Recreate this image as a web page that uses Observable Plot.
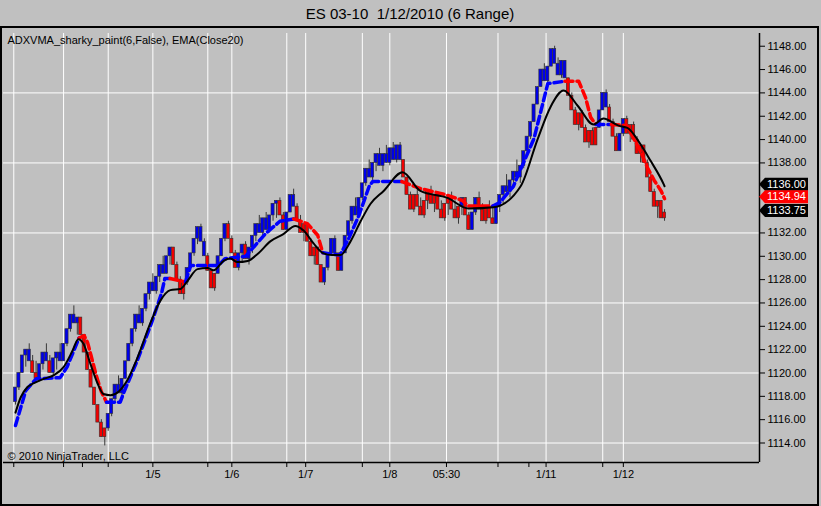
<!DOCTYPE html>
<html><head><meta charset="utf-8">
<script src="https://cdn.jsdelivr.net/npm/d3@7"></script>
<script src="https://cdn.jsdelivr.net/npm/@observablehq/plot@0.6"></script>
<style>html,body{margin:0;padding:0;background:#c0c0c0;} svg{display:block}</style>
</head><body><div id="chart"></div>
<script>
// ---- data (range bars, index = bar number) ----
const open = [
1117.5,1118.75,1120,1121.5,1122,1121,1120,1119.5,1120.75,1121.75,
1121,1120,1121.25,1121.75,1121,1122.5,1123.75,1125,1124.25,1124.75,
1123.25,1121.75,1120.25,1118.75,1117.25,1115.75,1114.5,1115.25,1116.5,1117.75,
1119,1118.25,1119.5,1121,1122.5,1123.75,1125,1124.25,1125.5,1126.75,
1127.75,1127,1128.25,1129.25,1128.5,1130,1130.75,1129.25,1128,1126.75,
1127.75,1129,1130.25,1131.5,1132.5,1131.25,1130,1128.75,1127.25,1128.5,
1130,1131.5,1132.75,1131.5,1130.25,1129,1130.25,1131,1129.75,1130.75,
1131.75,1132.75,1132,1133.25,1132.25,1133.5,1134.5,1134.75,1133.5,1132.25,
1133.75,1135.25,1134.25,1133,1132,1132.75,1131.25,1130,1130.75,1129.25,
1127.75,1129,1130.25,1131.5,1130.25,1128.75,1130.25,1131.75,1133,1134.25,
1133.5,1135,1136.25,1137.5,1136.75,1138,1138.75,1137.75,1138.75,1138,
1139.25,1138.25,1139.5,1138.25,1136.75,1135.25,1134,1135.25,1134.25,1133.5,
1134.75,1135.5,1134.5,1135.25,1134,1133.25,1134.5,1135,1134,1133.25,
1134.25,1135,1133.5,1132.25,1133.75,1135,1134,1133,1134.25,1133.25,
1132.75,1134.25,1135.25,1136,1135.5,1136.5,1137.25,1136.75,1137.75,1139,
1140.25,1141.5,1143,1144.5,1146,1145,1146.25,1147.75,1146.5,1145.5,
1146.75,1145.25,1143.75,1142.5,1141.25,1142.25,1141,1139.75,1140.75,1139.5,
1141,1142.5,1144,1142.75,1141.5,1140.25,1139,1140.5,1141.75,1140.5,
1141.25,1140,1138.75,1139.5,1138,1136.75,1135.5,1134.25,1134.75,1133.25];
const high = [
1118.75,1120,1121.5,1122,1122.5,1121.5,1121,1120.75,1121.75,1122.5,
1121.5,1121.25,1121.75,1122.5,1122.5,1123.75,1125,1125.75,1124.75,1124.75,
1123.25,1121.75,1120.25,1118.75,1117.25,1116,1115.25,1116.5,1117.75,1119,
1119.75,1119.5,1121,1122.5,1123.75,1125,1125.75,1125.5,1126.75,1127.75,
1128.5,1128.25,1129.25,1130,1130,1130.75,1130.75,1129.5,1128.25,1127.75,
1129,1130.25,1131.5,1132.5,1132.75,1131.5,1130.25,1128.75,1128.5,1130,
1131.5,1132.75,1133,1131.75,1130.5,1130.25,1131,1131.25,1130.75,1131.75,
1132.75,1133.5,1133.25,1133.75,1133.5,1134.5,1134.75,1135,1133.75,1133.75,
1135.25,1135.75,1134.5,1133.5,1132.75,1132.75,1131.5,1130.75,1130.75,1129.25,
1129,1130.25,1131.5,1131.75,1130.25,1130.25,1131.75,1133,1134.25,1135,
1135,1136.25,1137.5,1138.25,1138,1138.75,1139.25,1138.75,1139.5,1139.25,
1139.75,1139.5,1139.75,1138.25,1136.75,1135.5,1135.25,1135.75,1135,1134.75,
1135.5,1136,1135.25,1135.5,1134.75,1134.5,1135,1135.5,1134.75,1134.25,
1135,1135,1133.75,1133.75,1135,1135.5,1134.5,1134.25,1134.75,1134.25,
1134.25,1135.25,1136,1137,1136.5,1137.25,1138.25,1137.75,1139,1140.25,
1141.5,1143,1144.5,1146,1146.5,1146.25,1147.75,1148,1147,1146.75,
1146.75,1145.25,1144,1142.75,1142.25,1142.5,1141.25,1140.75,1141,1141,
1142.5,1144,1144.25,1143,1141.75,1140.5,1140.5,1141.75,1142,1141.25,
1141.5,1140.25,1139.5,1139.5,1138.25,1137,1135.75,1134.75,1134.75,1134];
const low = [
1117.25,1118.5,1120,1120.5,1121,1120,1119.5,1119.25,1120.25,1121,
1120,1119.75,1120.25,1121,1121,1122.25,1123.5,1124.25,1123.25,1123.25,
1121.75,1120.25,1118.75,1117.25,1115.75,1114.5,1113.75,1115,1116.25,1117.5,
1118.25,1118,1119.5,1121,1122.25,1123.5,1124.25,1124,1125.25,1126.25,
1127,1126.75,1127.75,1128.5,1128.5,1129.25,1129.25,1128,1126.75,1126.25,
1127.5,1128.75,1130,1131,1131.25,1130,1128.75,1127.25,1127,1128.5,
1130,1131.25,1131.5,1130.25,1129,1128.75,1129.5,1129.75,1129.25,1130.25,
1131.25,1132,1131.75,1132.25,1132,1133,1133.25,1133.5,1132.25,1132.25,
1133.75,1134.25,1133,1132,1131.25,1131.25,1130,1129.25,1129.25,1127.75,
1127.5,1128.75,1130,1130.25,1128.75,1128.75,1130.25,1131.5,1132.75,1133.5,
1133.5,1134.75,1136,1136.75,1136.5,1137.25,1137.75,1137.25,1138,1137.75,
1138.25,1138,1138.25,1136.75,1135.25,1134,1133.75,1134.25,1133.5,1133.25,
1134,1134.5,1133.75,1134,1133.25,1133,1133.5,1134,1133.25,1132.75,
1133.5,1133.5,1132.25,1132.25,1133.5,1134,1133,1132.75,1133.25,1132.75,
1132.75,1133.75,1134.5,1135.5,1135,1135.75,1136.75,1136.25,1137.5,1138.75,
1140,1141.5,1143,1144.5,1145,1144.75,1146.25,1146.5,1145.5,1145.25,
1145.25,1143.75,1142.5,1141.25,1140.75,1141,1139.75,1139.25,1139.5,1139.5,
1141,1142.5,1142.75,1141.5,1140.25,1139,1139,1140.25,1140.5,1139.75,
1140,1138.75,1138,1138,1136.75,1135.5,1134.25,1133.25,1133.25,1133];
const close = [
1118.75,1120,1121.5,1122,1121,1120,1119.5,1120.75,1121.75,1121,
1120,1121.25,1121.75,1121,1122.5,1123.75,1125,1124.25,1124.75,1123.25,
1121.75,1120.25,1118.75,1117.25,1115.75,1114.5,1115.25,1116.5,1117.75,1119,
1118.25,1119.5,1121,1122.5,1123.75,1125,1124.25,1125.5,1126.75,1127.75,
1127,1128.25,1129.25,1128.5,1130,1130.75,1129.25,1128,1126.75,1127.75,
1129,1130.25,1131.5,1132.5,1131.25,1130,1128.75,1127.25,1128.5,1130,
1131.5,1132.75,1131.5,1130.25,1129,1130.25,1131,1129.75,1130.75,1131.75,
1132.75,1132,1133.25,1132.25,1133.5,1134.5,1134.75,1133.5,1132.25,1133.75,
1135.25,1134.25,1133,1132,1132.75,1131.25,1130,1130.75,1129.25,1127.75,
1129,1130.25,1131.5,1130.25,1128.75,1130.25,1131.75,1133,1134.25,1133.5,
1135,1136.25,1137.5,1136.75,1138,1138.75,1137.75,1138.75,1138,1139.25,
1138.25,1139.5,1138.25,1136.75,1135.25,1134,1135.25,1134.25,1133.5,1134.75,
1135.5,1134.5,1135.25,1134,1133.25,1134.5,1135,1134,1133.25,1134.25,
1135,1133.5,1132.25,1133.75,1135,1134,1133,1134.25,1133.25,1132.75,
1134.25,1135.25,1136,1135.5,1136.5,1137.25,1136.75,1137.75,1139,1140.25,
1141.5,1143,1144.5,1146,1145,1146.25,1147.75,1146.5,1145.5,1146.75,
1145.25,1143.75,1142.5,1141.25,1142.25,1141,1139.75,1140.75,1139.5,1141,
1142.5,1144,1142.75,1141.5,1140.25,1139,1140.5,1141.75,1140.5,1141.25,
1140,1138.75,1139.5,1138,1136.75,1135.5,1134.25,1134.75,1133.25,1133.75];
// paint-bar colour runs: [first bar, last bar, trend]
const paintRuns = [[0,4,"b"],[5,6,"r"],[7,9,"b"],[10,10,"r"],[11,18,"b"],[19,26,"r"],[27,45,"b"],[46,49,"r"],
 [50,55,"b"],[56,58,"r"],[59,61,"b"],[62,64,"r"],[65,66,"b"],[67,67,"r"],[68,76,"b"],[77,78,"r"],[79,81,"b"],
 [82,89,"r"],[90,93,"b"],[94,94,"r"],[95,112,"b"],[113,129,"r"],[130,130,"b"],[131,132,"r"],[133,134,"b"],
 [135,139,"r"],[140,160,"b"],[161,169,"r"],[170,172,"b"],[173,175,"r"],[176,177,"b"],[178,189,"r"]];
// ADXVMA readings (bar index, value) and trend of the segment starting at each reading
const adxX = [0,3,6,13,15,18.5,20,21,22,23.5,25,26.5,30.5,31.5,35.5,39.5,42.5,43.5,45,49.5,
 51,59,61,67,70,73,77,81,85,88,89.5,94.5,97,100,103,104,112.5,118,125,130,
 132,139,141,145,146,151,155,160,164,166,167.5,169,173.5,178,180,182,184,186,188,189];
const adxV = [1115.5,1118.5,1119.5,1119.6,1120.5,1123.0,1123.2,1122.6,1121.5,1119.8,1118.4,1117.5,1117.5,1118.3,1121.1,1124.2,1126.8,1128.1,1128.1,1127.8,
 1129.2,1129.2,1129.8,1130.0,1131.0,1132.0,1133.0,1133.2,1132.8,1131.8,1130.3,1130.1,1131.5,1133.5,1136.0,1136.4,1136.4,1135.8,1135.3,1134.8,
 1134.3,1134.3,1134.6,1136.0,1136.7,1140.1,1144.8,1145.0,1145.0,1143.6,1141.9,1141.3,1141.3,1141.2,1140.1,1139.0,1137.6,1136.5,1135.6,1134.94];
const adxTrend = ("bbbbb"+"rrrrrr"+"bbbbbbb"+"r"+"bbbbbbbb"+"rrr"+"bbbbbb"+"rrrrr"+"bbbbbb"+"rrrr"+"b"+"rrrrrrrr").split("");
// EMA(Close,20) readings
const emaX = [0,1.5,3.5,5.2,8.2,11.1,14,16.6,18.3,19.8,21.8,23.9,25.6,27.7,30,32.6,35.5,39.3,42.2,45.1,
 48,50.1,53,55.9,57.7,60.6,62.6,64.6,67.6,70.5,74.3,78,81.5,83.9,86.8,89.4,92.3,94.6,97.6,100.5,
 103.4,107.2,112.7,117.9,125.8,131.9,139.2,147.1,152,155.8,159.6,163.7,168.3,171.2,175.6,178.2,182,184.9,188.7,189];
const emaV = [1116.6,1117.9,1118.8,1119.1,1119.5,1119.8,1120.5,1121.9,1122.9,1122.5,1120.8,1119.1,1118.2,1118.1,1118.4,1119.4,1121.3,1124.3,1126.2,1127.1,
 1127.2,1127.9,1128.9,1129.0,1128.8,1129.6,1129.8,1129.5,1129.6,1130.2,1131.3,1131.9,1132.6,1132.2,1131.1,1130.3,1130.1,1130.1,1131.3,1133.0,
 1134.5,1135.6,1137.2,1135.6,1135.0,1134.1,1134.2,1136.0,1140.0,1142.8,1144.2,1142.9,1141.3,1141.8,1141.2,1141.0,1139.6,1138.2,1136.2,1136.0];
// axis ticks
const xTickPos = [-0.5,14,19.5,27,40,56,63,79,84.5,101,109,125.5,140.5,149.5,154.5,171,177];
const xTickLab = ["","","","","1/5","","1/6","","1/7","","1/8","05:30","","","1/11","","1/12"];
const xGridPos = [-0.5,14,27,40,56,63,79,84.5,101,109,125.5,140.5,154.5,171,177];
// price labels left visible (1134 and 1136 lie under the value tags)
const yTicks = [1114,1116,1118,1120,1122,1124,1126,1128,1130,1132,1138,1140,1142,1144,1146,1148];
const yGrid = [1114,1120,1126,1132,1138,1144];
// right-axis value tags
const tagVals = [1136.00, 1134.94, 1133.75];
const tagFill = ["#000000", "#ff0000", "#000000"];
const titleText = "ES 03-10  1/12/2010 (6 Range)";
const legendText = "ADXVMA_sharky_paint(6,False), EMA(Close20)";
const copyText = "\u00a9 2010 NinjaTrader, LLC";

// ---- build ----
const BLUE = "#0000e8", RED = "#f00000";
const trendOf = i => paintRuns.find(r => i >= r[0] && i <= r[1])[2];
const bars = close.map((c, i) => ({i, o: open[i], h: high[i], l: low[i], c, t: trendOf(i)}));
const adxPts = [];
let run = -1, prev = null;
for (let k = 0; k < adxX.length - 1; k++) {
  const t = adxTrend[k];
  if (t !== prev) { run++; adxPts.push({x: adxX[k], v: adxV[k], run, t}); }
  adxPts.push({x: adxX[k + 1], v: adxV[k + 1], run, t});
  prev = t;
}
const emaPts = emaX.map((x, k) => ({x, v: emaV[k]}));
const xDom = [-3.49, 216.65], yDom = [1112.33, 1149.09];
const FONT = "'Liberation Sans', Arial, sans-serif";

const plot = Plot.plot({
  width: 821, height: 506,
  marginTop: 33, marginBottom: 44, marginLeft: 3, marginRight: 62,
  style: {background: "#c0c0c0", fontFamily: FONT, fontSize: "11px", color: "black", overflow: "visible"},
  x: {domain: xDom, ticks: xTickPos, tickFormat: d => xTickLab[xTickPos.indexOf(d)], tickSize: 5, tickPadding: 3, label: null},
  y: {domain: yDom, axis: "right", ticks: yTicks, tickFormat: d3.format(".2f"), tickSize: 5, tickPadding: 3, label: null},
  marks: [
    Plot.ruleX(xGridPos, {stroke: "white", strokeWidth: 1}),
    Plot.ruleY(yGrid, {stroke: "white", strokeWidth: 1}),
    Plot.ruleX(bars, {x: "i", y1: "l", y2: "h", stroke: "#383838", strokeWidth: 1}),
    Plot.rect(bars, {x1: d => d.i - 0.46, x2: d => d.i + 0.46, y1: "o", y2: "c",
      fill: d => d.t === "b" ? BLUE : RED, stroke: "#303030", strokeWidth: 0.6}),
    Plot.line(adxPts, {x: "x", y: "v", z: "run", stroke: d => d.t === "b" ? "#0000ff" : "#ff0000",
      strokeWidth: 3.5, strokeDasharray: "8,4"}),
    Plot.line(emaPts, {x: "x", y: "v", stroke: "black", strokeWidth: 2, curve: "monotone-x"}),
    Plot.ruleY([yDom[0]], {stroke: "black", strokeWidth: 1.5}),
    Plot.ruleX([xDom[1]], {stroke: "black", strokeWidth: 1.5}),
    Plot.text([legendText], {frameAnchor: "top-left", dx: 4, dy: 3, lineAnchor: "top", fill: "black", fontSize: 11}),
    Plot.text([copyText], {frameAnchor: "bottom-left", dx: 4, dy: -3, lineAnchor: "bottom", fill: "black", fontSize: 11})
  ]
});

const svg = d3.select(plot);
const ys = plot.scale("y"), xs = plot.scale("x");
const ax = xs.apply(xDom[1]);
tagVals.forEach((v, k) => {
  const y = ys.apply(v) - 1.5;
  svg.append("path")
    .attr("d", `M${ax},${y}L${ax + 6},${y - 6.5}H${ax + 49}V${y + 6.5}H${ax + 6}Z`)
    .attr("fill", tagFill[k]);
  svg.append("text").attr("x", ax + 8).attr("y", y).attr("dy", "0.35em")
    .attr("text-anchor", "start")
    .attr("fill", "white").attr("font-family", FONT).attr("font-size", 11)
    .text(d3.format(".2f")(v));
});
svg.append("text").attr("x", 410).attr("y", 14).attr("dy", "0.35em").attr("text-anchor", "middle")
  .attr("font-family", FONT).attr("font-size", 15).attr("fill", "black").text(titleText);
svg.append("rect").attr("x", 1).attr("y", 27).attr("width", 817).attr("height", 478)
  .attr("fill", "none").attr("stroke", "black").attr("stroke-width", 2);

document.getElementById("chart").appendChild(plot);
</script>
</body></html>
